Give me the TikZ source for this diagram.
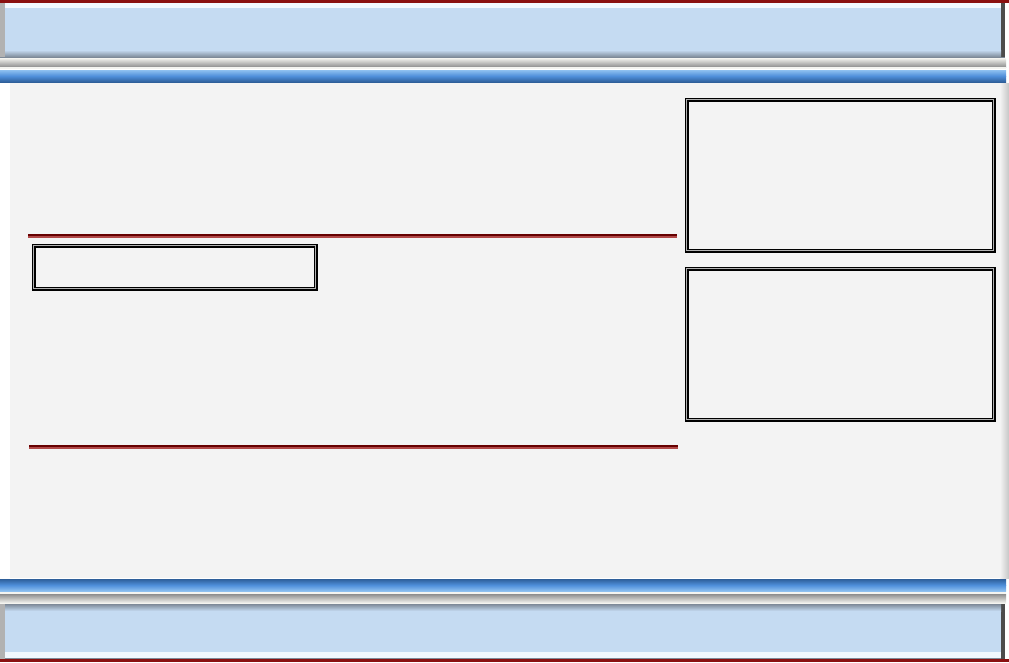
\documentclass[tikz,border=0pt]{standalone}
\usetikzlibrary{shadings}
\definecolor{bgmain}{HTML}{F3F3F3}
\definecolor{banner}{HTML}{C5DBF2}
\definecolor{bannerhi}{HTML}{F2F8FE}
\definecolor{bannersh}{HTML}{7E8A98}
\definecolor{darkred}{HTML}{8A1010}
\definecolor{rulered}{HTML}{660000}
\definecolor{rulepink}{HTML}{B04848}
\definecolor{bluetop}{HTML}{8EC0F0}
\definecolor{bluemid}{HTML}{4F8FDA}
\definecolor{bluebot}{HTML}{2E5F9A}
\definecolor{silverhi}{HTML}{F4F4F0}
\definecolor{silverlo}{HTML}{8E8E8E}
\tikzset{
  panel/.style={draw=black, line width=1.2pt, double=gray!60, double distance=1.4pt, inner sep=0pt, anchor=north west},
}
\begin{document}
\begin{tikzpicture}[x=1pt,y=-1pt]
\useasboundingbox (0,0) rectangle (1009,662);
% page background
\fill[white] (0,0) rectangle (1009,662);
\fill[bgmain] (10,83) rectangle (1000,578);
\shade[left color=bgmain, right color=gray!45] (1000,83) rectangle (1009,578);
% ---------- top banner ----------
\fill[darkred] (0,0) rectangle (1009,3);
\fill[bannersh] (0,3) rectangle (1005,58);
\fill[gray!60] (0,3) rectangle (5,57);
\fill[black!70] (1001,3) rectangle (1005,57);
\fill[bannerhi] (5,3) rectangle (1001,8);
\fill[banner] (5,8) rectangle (1001,52);
\shade[top color=banner, bottom color=bannersh] (5,50) rectangle (1001,57);
% silver bar
\shade[top color=silverhi, bottom color=silverlo] (0,58) rectangle (1006,67);
\fill[silverhi] (0,67) rectangle (1006,69);
% blue bar
\shade[top color=bluetop, bottom color=bluemid] (0,70) rectangle (1006,76);
\shade[top color=bluemid, bottom color=bluebot] (0,76) rectangle (1006,82);
% ---------- bottom banner ----------
\shade[top color=bluebot, bottom color=bluemid] (0,579) rectangle (1006,585);
\shade[top color=bluemid, bottom color=bluetop] (0,585) rectangle (1006,591);
\fill[silverhi] (0,592) rectangle (1006,594);
\shade[top color=silverlo, bottom color=silverhi] (0,594) rectangle (1006,603);
\fill[bannersh] (0,604) rectangle (1005,659);
\fill[gray!60] (0,604) rectangle (5,659);
\fill[black!70] (1001,604) rectangle (1005,659);
\shade[top color=bannersh, bottom color=banner] (5,604) rectangle (1001,611);
\fill[banner] (5,611) rectangle (1001,652);
\fill[bannerhi] (5,652) rectangle (1001,658);
\fill[darkred] (0,659) rectangle (1009,662);
% ---------- rules ----------
\fill[rulered] (28,234) rectangle (677,236);
\fill[rulepink] (28,236) rectangle (677,238);
\fill[rulered] (29,445) rectangle (678,447);
\fill[rulepink] (29,447) rectangle (678,449);
% ---------- panels ----------
\node[panel, minimum width=282pt, minimum height=43pt] (small) at (33,245) {};
\node[panel, minimum width=307pt, minimum height=151pt] (side1) at (686,99) {};
\node[panel, minimum width=307pt, minimum height=151pt] (side2) at (686,268) {};
\end{tikzpicture}
\end{document}
